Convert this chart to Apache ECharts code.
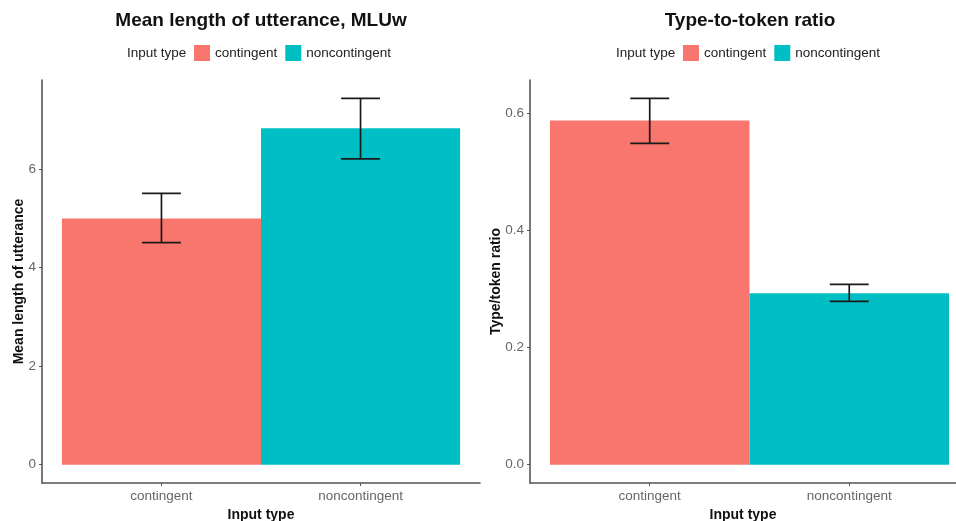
<!DOCTYPE html>
<html>
<head>
<meta charset="utf-8">
<script src="https://cdn.jsdelivr.net/npm/echarts@6/dist/echarts.min.js"></script>
<style>html,body{margin:0;padding:0;background:#fff}#c{width:956px;height:521px}</style>
</head>
<body>
<div id="c"></div>
<script>
const categories = ['contingent', 'noncontingent'];
const catPos = [1, 2];
const mluMean = [5.00, 6.83];
const mluLow = [4.51, 6.21];
const mluHigh = [5.51, 7.44];
const ttrMean = [0.588, 0.293];
const ttrLow = [0.549, 0.279];
const ttrHigh = [0.626, 0.308];
const yTicksLeft = [0, 2, 4, 6];
const yTicksRight = [0.0, 0.2, 0.4, 0.6];
const colors = ['#F8766D', '#00BFC4'];

const FONT = 'Liberation Sans, Arial, sans-serif';
const chart = echarts.init(document.getElementById('c'));

function barItem(params, api) {
  const x = api.value(0), v = api.value(1);
  const p0 = api.coord([x - 0.5, v]);
  const p1 = api.coord([x + 0.5, 0]);
  return {
    type: 'rect',
    shape: { x: p0[0], y: p0[1], width: p1[0] - p0[0], height: p1[1] - p0[1] },
    style: { fill: api.visual('color') }
  };
}
function errItem(params, api) {
  const x = api.value(0), lo = api.value(1), hi = api.value(2);
  const half = 0.0975;
  const a = api.coord([x, lo]), b = api.coord([x, hi]);
  const l1 = api.coord([x - half, lo]), r1 = api.coord([x + half, lo]);
  const l2 = api.coord([x - half, hi]), r2 = api.coord([x + half, hi]);
  const st = { stroke: '#1a1a1a', lineWidth: 1.7 };
  return {
    type: 'group',
    children: [
      { type: 'line', shape: { x1: a[0], y1: a[1], x2: b[0], y2: b[1] }, style: st },
      { type: 'line', shape: { x1: l1[0], y1: l1[1], x2: r1[0], y2: r1[1] }, style: st },
      { type: 'line', shape: { x1: l2[0], y1: l2[1], x2: r2[0], y2: r2[1] }, style: st }
    ]
  };
}

function xAxisCfg(gi, max) {
  return {
    type: 'value', gridIndex: gi, min: 0.4, max: max,
    name: 'Input type', nameLocation: 'middle', nameGap: 22,
    nameTextStyle: { fontFamily: FONT, fontWeight: 'bold', fontSize: 14, color: '#111' },
    axisLine: { show: true, onZero: false, lineStyle: { color: '#555', width: 1.6 } },
    axisTick: { show: true, length: 3, customValues: catPos, lineStyle: { color: '#555' } },
    axisLabel: {
      customValues: catPos, margin: 6, fontFamily: FONT, fontSize: 13.5, color: '#666',
      formatter: v => categories[Math.round(v) - 1] || ''
    },
    splitLine: { show: false }
  };
}
function yAxisCfg(gi, min, max, ticks, name, gap, dec) {
  return {
    type: 'value', gridIndex: gi, min: min, max: max,
    name: name, nameLocation: 'middle', nameGap: gap, nameMoveOverlap: false,
    nameTextStyle: { fontFamily: FONT, fontWeight: 'bold', fontSize: 14, color: '#111' },
    axisLine: { show: true, lineStyle: { color: '#555', width: 1.6 } },
    axisTick: { show: true, length: 3, customValues: ticks, lineStyle: { color: '#555' } },
    axisLabel: {
      customValues: ticks, margin: 6, fontFamily: FONT, fontSize: 13.5, color: '#666',
      formatter: v => v.toFixed(dec)
    },
    splitLine: { show: false }
  };
}

const series = [];
[[0, mluMean, mluLow, mluHigh], [1, ttrMean, ttrLow, ttrHigh]].forEach(([gi, m, lo, hi]) => {
  categories.forEach((c, i) => {
    series.push({
      type: 'custom', name: c, xAxisIndex: gi, yAxisIndex: gi,
      itemStyle: { color: colors[i] },
      renderItem: barItem, encode: { x: 0, y: 1 },
      data: [[catPos[i], m[i]]], silent: true, z: 2
    });
  });
  series.push({
    type: 'custom', name: 'err' + gi, xAxisIndex: gi, yAxisIndex: gi,
    renderItem: errItem, encode: { x: 0, y: [1, 2] },
    data: categories.map((c, i) => [catPos[i], lo[i], hi[i]]), silent: true, z: 3
  });
});

const legendCommon = {
  data: categories, icon: 'rect', itemWidth: 16, itemHeight: 16, itemGap: 8, padding: 0,
  orient: 'horizontal', selectedMode: false,
  textStyle: { fontFamily: FONT, fontSize: 13.5, color: '#222' }
};

chart.setOption({
  animation: false,
  backgroundColor: '#fff',
  title: [
    { text: 'Mean length of utterance, MLUw', left: 261, top: 11, textAlign: 'center', padding: 0,
      textStyle: { fontFamily: FONT, fontWeight: 'bold', fontSize: 19, color: '#111' } },
    { text: 'Type-to-token ratio', left: 750, top: 11, textAlign: 'center', padding: 0,
      textStyle: { fontFamily: FONT, fontWeight: 'bold', fontSize: 19, color: '#111' } },
    { text: 'Input type', left: 127, top: 46, padding: 0,
      textStyle: { fontFamily: FONT, fontWeight: 'normal', fontSize: 13.5, color: '#222' } },
    { text: 'Input type', left: 616, top: 46, padding: 0,
      textStyle: { fontFamily: FONT, fontWeight: 'normal', fontSize: 13.5, color: '#222' } }
  ],
  legend: [
    Object.assign({ left: 194, top: 45 }, legendCommon),
    Object.assign({ left: 683, top: 45 }, legendCommon)
  ],
  grid: [
    { left: 42, top: 80, width: 438, height: 403, outerBoundsMode: 'none', containLabel: false },
    { left: 530, top: 80, width: 426, height: 403, outerBoundsMode: 'none', containLabel: false }
  ],
  xAxis: [xAxisCfg(0, 2.6), xAxisCfg(1, 2.535)],
  yAxis: [
    yAxisCfg(0, -0.372, 7.812, yTicksLeft, 'Mean length of utterance', 16, 0),
    yAxisCfg(1, -0.0313, 0.6573, yTicksRight, 'Type/token ratio', 27, 1)
  ],
  series: series
});
</script>
</body>
</html>
